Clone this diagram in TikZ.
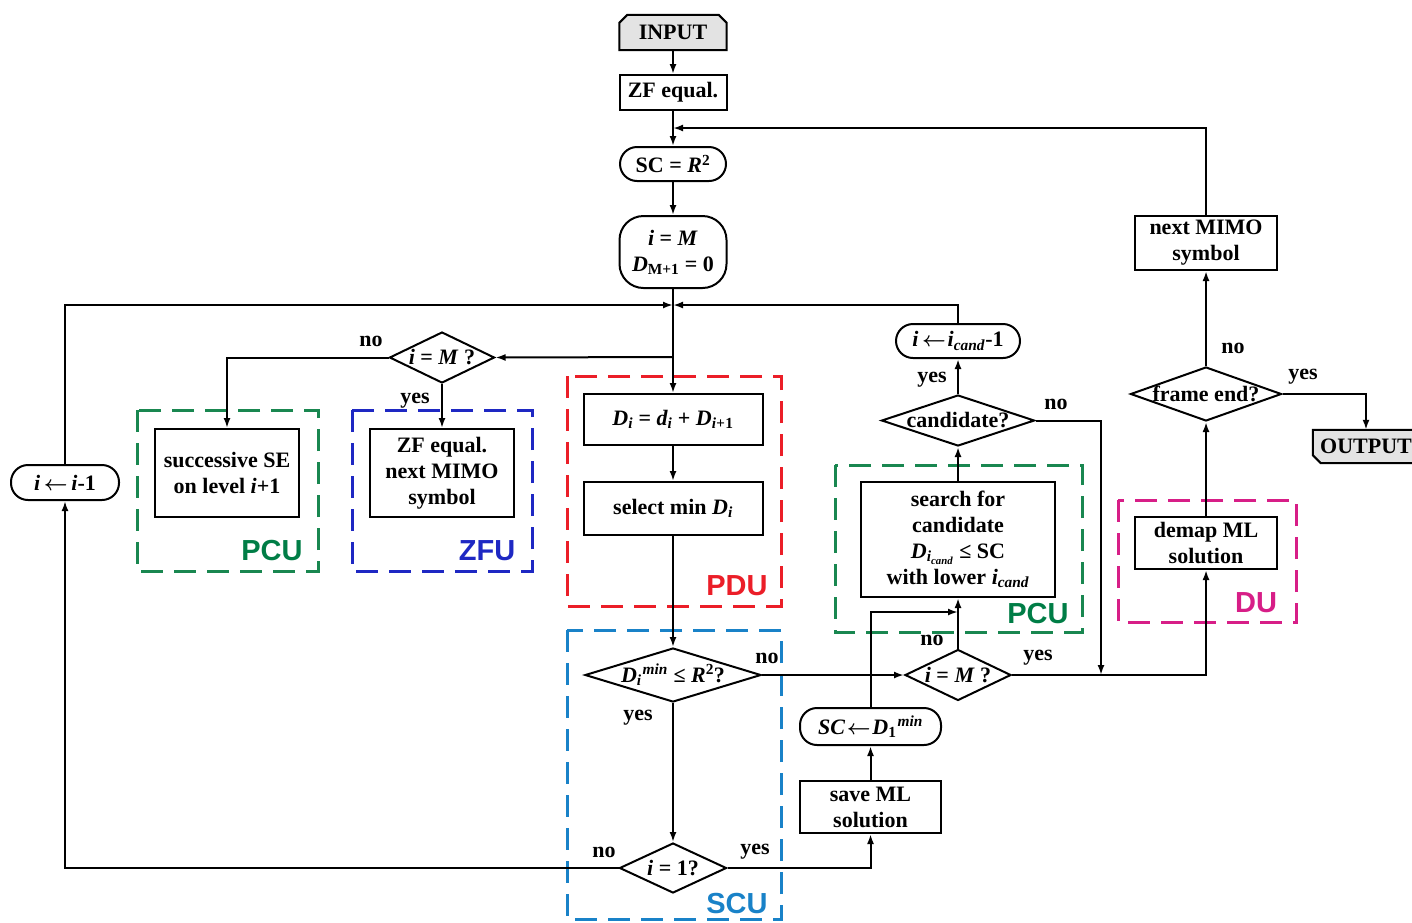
\documentclass[tikz,border=0pt]{standalone}
\usepackage{fontspec}
\setmainfont{Liberation Serif}
\newfontfamily\unitfont{Liberation Sans}
\usetikzlibrary{shapes.geometric,arrows.meta,backgrounds}
\definecolor{pcug}{RGB}{25,135,80}
\definecolor{pcut}{RGB}{0,125,70}
\definecolor{zfub}{RGB}{30,40,195}
\definecolor{pdur}{RGB}{235,30,40}
\definecolor{scub}{RGB}{25,130,200}
\definecolor{dum}{RGB}{215,30,135}
\newcommand\mainf{\fontsize{22}{26}\selectfont\bfseries}
\newcommand\iv[1]{\textit{#1}}
\newcommand\ssub[1]{\textsubscript{#1}}
\newcommand\larr{\,$\boldsymbol{\leftarrow}$\,}
\usepackage{amsmath}
\begin{document}
\begin{tikzpicture}[x=1pt,y=-1pt,
  >={Latex[length=10pt,width=7pt]},
  conn/.style={->,line width=2pt},
  pbox/.style={draw,line width=2pt,inner sep=0pt,align=center,font=\mainf},
  stad/.style={pbox,rounded corners=17pt},
  dia/.style={draw,diamond,inner sep=0pt,line width=2pt},
  dtxt/.style={inner sep=0pt,font=\mainf},
  lbl/.style={inner sep=0pt,font=\mainf},
  ubox/.style={line width=3pt,dash pattern=on 22pt off 11pt},
  utxt/.style={inner sep=0pt,font=\unitfont\fontsize{29}{29}\selectfont\bfseries}]
\useasboundingbox (0,0) rectangle (1412,922);

% terminals
\node[inner sep=0pt,minimum width=107pt,minimum height=35pt,font=\mainf] (input) at (673,32.5) {INPUT};
\node[inner sep=0pt,minimum width=106pt,minimum height=33pt,font=\mainf] (output) at (1366,446.5) {OUTPUT};

% boxes
\node[pbox,minimum width=107pt,minimum height=35pt] (zf) at (673,92.5) {ZF equal.};
\node[stad,minimum width=106pt,minimum height=34pt] (sc) at (673,164) {SC = \iv{R}\textsuperscript{2}};
\node[pbox,rounded corners=24pt,minimum width=107pt,minimum height=72pt] (init) at (673,252) {\iv{i} = \iv{M}\\\iv{D}\ssub{M+1} = 0};
\node[pbox,minimum width=144pt,minimum height=88pt] (sse) at (227,473) {successive SE\\on level \iv{i}+1};
\node[pbox,minimum width=144pt,minimum height=88pt] (zfn) at (442,473) {ZF equal.\\next MIMO\\symbol};
\node[pbox,minimum width=179pt,minimum height=51pt] (di) at (673,419.5) {\iv{D\ssub{i}} = \iv{d\ssub{i}} + \iv{D\ssub{i+}}\ssub{1}};
\node[pbox,minimum width=179pt,minimum height=53pt] (sel) at (673,508.5) {select min \iv{D\ssub{i}}};
\node[pbox,minimum width=141pt,minimum height=52pt] (save) at (870.5,807) {save ML\\solution};
\node[stad,minimum width=141pt,minimum height=37pt] (scd) at (870.5,726.5) {\iv{SC}\kern-2pt\larr\kern-2pt\iv{D}\ssub{1}\kern1pt\textsuperscript{\iv{min}}};
\node[pbox,minimum width=194pt,minimum height=115pt] (search) at (958,539.5) {search for\\candidate\\\iv{D}\ssub{\iv{i}\ssub{\iv{cand}}} ≤ SC\\with lower \iv{i}\ssub{\iv{cand}}};
\node[stad,minimum width=124pt,minimum height=34pt] (icand) at (958,341) {\iv{i}\larr\kern-2pt\iv{i}\ssub{\iv{cand}}-1};
\node[pbox,minimum width=142pt,minimum height=52pt] (demap) at (1206,543) {demap ML\\solution};
\node[pbox,minimum width=142pt,minimum height=54pt] (nmimo) at (1206,243) {next MIMO\\symbol};
\node[stad,minimum width=108pt,minimum height=35pt] (iim1) at (65,482.5) {\iv{i}\larr\iv{i}-1};

% diamonds
\node[dia,minimum width=105pt,minimum height=51pt] (dimL) at (442,357.5) {};
\node[dtxt] (tdimL) at (dimL) {\iv{i} = \iv{M} ?};
\node[dia,minimum width=176pt,minimum height=54pt] (dmin) at (673,675) {};
\node[dtxt] (tdmin) at (dmin) {\iv{D}\ssub{\iv{i}}\kern1pt\textsuperscript{\iv{min}} ≤ \iv{R}\textsuperscript{2}?};
\node[dia,minimum width=107pt,minimum height=50pt] (ione) at (673,868) {};
\node[dtxt] (tione) at (ione) {\iv{i} = 1?};
\node[dia,minimum width=106pt,minimum height=51pt] (imR) at (958,675) {};
\node[dtxt] (timR) at (imR) {\iv{i} = \iv{M} ?};
\node[dia,minimum width=153pt,minimum height=51pt] (cand) at (958,420.5) {};
\node[dtxt] (tcand) at (cand) {candidate?};
\node[dia,minimum width=151pt,minimum height=54pt] (frame) at (1206,394) {};
\node[dtxt] (tframe) at (frame) {frame end?};

% junction coordinates
\coordinate (j0) at (673,128);
\coordinate (j1) at (673,305);
\coordinate (j2) at (673,357);
\coordinate (j3) at (1101,675);
\coordinate (j4) at (958,612);

% background: unit boxes and terminal fills
\begin{pgfonlayer}{background}
\draw[ubox,pcug] (137,410) rectangle (318,571);
\draw[ubox,zfub] (352,410) rectangle (532,571);
\draw[ubox,pdur] (567,376) rectangle (781,606);
\draw[ubox,scub] (567,630) rectangle (781,919);
\draw[ubox,pcug] (835,465) rectangle (1082,632);
\draw[ubox,dum] (1118,500) rectangle (1296,622);
\filldraw[fill=gray!22,line width=2pt] (input.south west) -- (input.south east)
  -- ([yshift=-8pt]input.north east) -- ([xshift=-8pt]input.north east)
  -- ([xshift=8pt]input.north west) -- ([yshift=-8pt]input.north west) -- cycle;
\filldraw[fill=gray!22,line width=2pt] (output.north west) -- (output.north east)
  -- (output.south east) -- ([xshift=8pt]output.south west)
  -- ([yshift=8pt]output.south west) -- cycle;
\end{pgfonlayer}

% unit labels
\node[utxt,pcut] (lpcu1) at (272,551) {PCU};
\node[utxt,zfub] (lzfu) at (487,551) {ZFU};
\node[utxt,pdur] (lpdu) at (737,586) {PDU};
\node[utxt,scub] (lscu) at (737,903) {SCU};
\node[utxt,pcut] (lpcu2) at (1038,614) {PCU};
\node[utxt,dum] (ldu) at (1256,603) {DU};

% connectors
\draw[conn] (input.south) -- (zf.north);
\draw[conn] (zf.south) -- (sc.north);
\draw[conn] (nmimo.north) |- (j0);
\draw[conn] (sc.south) -- (init.north);
\draw[conn] (init.south) -- (di.north);
\draw[conn] (iim1.north) |- (j1);
\draw[conn] (icand.north) |- (j1);
\draw[conn] (j2) -- (dimL.east);
\draw[conn] (dimL.west) -| (sse.north);
\draw[conn] (dimL.south) -- (zfn.north);
\draw[conn] (di.south) -- (sel.north);
\draw[conn] (sel.south) -- (dmin.north);
\draw[conn] (dmin.south) -- (ione.north);
\draw[conn] (dmin.east) -- (imR.west);
\draw[conn] (ione.west) -| (iim1.south);
\draw[conn] (ione.east) -| (save.south);
\draw[conn] (save.north) -- (scd.south);
\draw[conn] (scd.north) |- (j4);
\draw[conn] (imR.north) -- (search.south);
\draw[conn] (search.north) -- (cand.south);
\draw[conn] (cand.north) -- (icand.south);
\draw[conn] (cand.east) -| (j3);
\draw[conn] (imR.east) -| (demap.south);
\draw[conn] (demap.north) -- (frame.south);
\draw[conn] (frame.north) -- (nmimo.south);
\draw[conn] (frame.east) -| (output.north);

% yes/no labels
\node[lbl] (n1) at (371,341) {no};
\node[lbl] (y1) at (415,401) {yes};
\node[lbl] (n2) at (767,658) {no};
\node[lbl] (y2) at (638,718) {yes};
\node[lbl] (n3) at (604,852) {no};
\node[lbl] (y3) at (755,852) {yes};
\node[lbl] (n4) at (932,640) {no};
\node[lbl] (y4) at (1038,658) {yes};
\node[lbl] (y5) at (932,380) {yes};
\node[lbl] (n5) at (1056,404) {no};
\node[lbl] (n6) at (1233,348) {no};
\node[lbl] (y6) at (1303,377) {yes};
\end{tikzpicture}
\end{document}
